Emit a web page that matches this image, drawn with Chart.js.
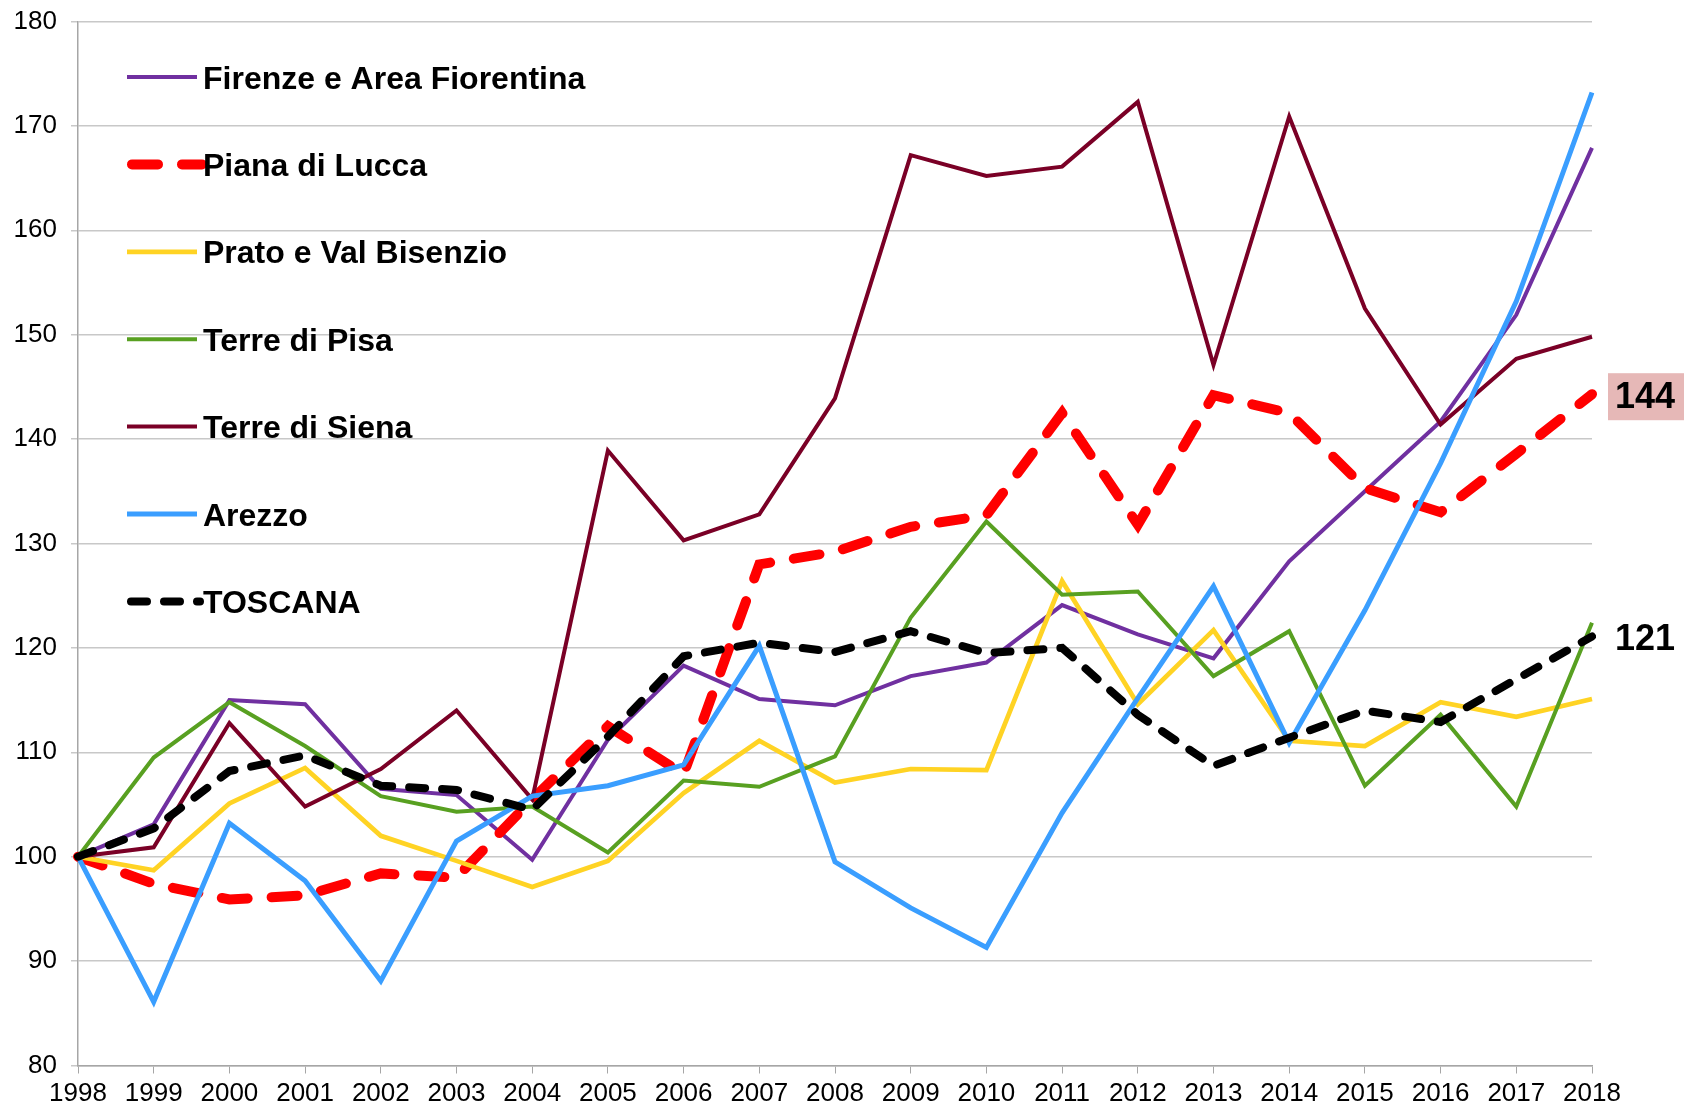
<!DOCTYPE html>
<html>
<head>
    <title>Indice 1998 = 100</title>
    <style>
        body { margin: 0; background: #fff; }
        #wrap { width: 1684px; height: 1112px; }
    </style>
    <script src="https://cdn.jsdelivr.net/npm/chart.js"></script>
</head>
<body>
    <div id="wrap">
        <canvas id="chart1" width="1684" height="1112"></canvas>
    </div>

    <script>
        var years = ['1998','1999','2000','2001','2002','2003','2004','2005','2006','2007','2008',
                     '2009','2010','2011','2012','2013','2014','2015','2016','2017','2018'];

        var firenze = [100, 103.1, 115.0, 114.6, 106.5, 105.9, 99.7, 111.2, 118.3, 115.1, 114.5,
                       117.3, 118.6, 124.1, 121.3, 119.0, 128.3, 135.0, 141.7, 151.9, 167.9];
        var lucca   = [100, 97.4, 95.9, 96.3, 98.4, 98.0, 105.5, 112.5, 107.9, 128.0, 129.2,
                       131.6, 132.7, 142.5, 131.8, 144.2, 142.5, 135.3, 133.0, 138.6, 144.3];
        var prato   = [100, 98.7, 105.1, 108.5, 102.0, 99.6, 97.1, 99.6, 106.1, 111.1, 107.1,
                       108.4, 108.3, 126.4, 114.6, 121.7, 111.1, 110.6, 114.8, 113.4, 115.1];
        var pisa    = [100, 109.5, 114.8, 110.6, 105.8, 104.3, 104.8, 100.4, 107.3, 106.7, 109.6,
                       122.9, 132.1, 125.1, 125.4, 117.3, 121.6, 106.8, 113.6, 104.8, 122.4];
        var siena   = [100, 100.9, 112.8, 104.8, 108.4, 114.0, 105.5, 138.9, 130.3, 132.8, 143.9,
                       167.2, 165.2, 166.1, 172.3, 147.1, 170.9, 152.5, 141.4, 147.7, 149.8];
        var arezzo  = [100, 86.1, 103.2, 97.7, 88.1, 101.5, 105.8, 106.8, 108.8, 120.2, 99.5,
                       95.1, 91.3, 104.2, 115.2, 125.9, 110.9, 123.6, 137.7, 153.2, 173.2];
        var toscana = [100, 102.7, 108.2, 109.7, 106.8, 106.4, 104.5, 111.5, 119.2, 120.5, 119.6,
                       121.6, 119.5, 120.0, 113.6, 108.7, 111.4, 114.0, 112.9, 117.0, 121.1];

        var FONT = '"Liberation Sans", Arial, sans-serif';

        // legend drawn inside the plot, top left
        var legendInside = {
            id: 'legendInside',
            afterDatasetsDraw: function(chart) {
                var ctx = chart.ctx;
                var y0 = 77, step = 87.4;
                ctx.save();
                chart.data.datasets.forEach(function(ds, i) {
                    var y = y0 + i * step;
                    ctx.beginPath();
                    ctx.strokeStyle = ds.borderColor;
                    ctx.lineWidth = ds.borderWidth;
                    ctx.lineCap = ds.borderCapStyle || 'butt';
                    ctx.setLineDash(ds.borderDash || []);
                    var x1 = 127, x2 = 197;
                    if (ds.borderDash) {
                        x1 = 127 + ds.borderWidth / 2;
                        x2 = ds.legendEnd;
                    }
                    ctx.moveTo(x1, y);
                    ctx.lineTo(x2, y);
                    ctx.stroke();
                    ctx.setLineDash([]);
                    ctx.fillStyle = '#000';
                    ctx.font = 'bold 32px ' + FONT;
                    ctx.textAlign = 'left';
                    ctx.textBaseline = 'alphabetic';
                    ctx.fillText(ds.label, 203, y + 11.5);
                });
                ctx.restore();
            }
        };

        // value labels at the right of the last point
        var endLabels = {
            id: 'endLabels',
            afterDraw: function(chart) {
                var ctx = chart.ctx;
                ctx.save();
                chart.data.datasets.forEach(function(ds, i) {
                    if (!ds.endLabel) return;
                    var meta = chart.getDatasetMeta(i);
                    var pt = meta.data[meta.data.length - 1];
                    var txt = String(Math.round(ds.data[ds.data.length - 1]));
                    var x = pt.x + 16;
                    if (ds.endLabelBg) {
                        ctx.fillStyle = ds.endLabelBg;
                        ctx.fillRect(x, pt.y - 21, 80, 47);
                    }
                    ctx.fillStyle = '#000';
                    ctx.font = 'bold 36px ' + FONT;
                    ctx.textAlign = 'left';
                    ctx.textBaseline = 'middle';
                    ctx.fillText(txt, x + 7, pt.y + 4);
                });
                ctx.restore();
            }
        };

        var ctx1 = document.getElementById('chart1').getContext('2d');
        var chart1 = new Chart(ctx1, {
            type: 'line',
            data: {
                labels: years,
                datasets: [
                    { label: 'Firenze e Area Fiorentina', data: firenze, borderColor: '#7030A0', borderWidth: 4, order: 7 },
                    { label: 'Piana di Lucca', data: lucca, borderColor: '#FF0000', borderWidth: 10,
                      borderDash: [26, 24], borderCapStyle: 'round', order: 6, legendEnd: 202,
                      endLabel: true, endLabelBg: '#E6B8B7' },
                    { label: 'Prato e Val Bisenzio', data: prato, borderColor: '#FFD324', borderWidth: 4.7, order: 5 },
                    { label: 'Terre di Pisa', data: pisa, borderColor: '#58A021', borderWidth: 4, order: 4 },
                    { label: 'Terre di Siena', data: siena, borderColor: '#7A0026', borderWidth: 4, order: 3 },
                    { label: 'Arezzo', data: arezzo, borderColor: '#3A9EFF', borderWidth: 5, order: 2 },
                    { label: 'TOSCANA', data: toscana, borderColor: '#000000', borderWidth: 8,
                      borderDash: [16, 17], borderCapStyle: 'round', order: 1, legendEnd: 200, endLabel: true }
                ]
            },
            options: {
                responsive: false,
                animation: false,
                devicePixelRatio: 1,
                layout: { padding: { top: 21.5, right: 92, bottom: 0, left: 0 } },
                elements: {
                    point: { radius: 0, hoverRadius: 0 },
                    line: { tension: 0, fill: false, borderJoinStyle: 'miter' }
                },
                plugins: {
                    legend: { display: false },
                    tooltip: { enabled: false }
                },
                scales: {
                    x: {
                        offset: false,
                        grid: { display: true, drawOnChartArea: false, drawTicks: true, tickLength: 8, color: '#A6A6A6' },
                        border: { color: '#A6A6A6', width: 1.5 },
                        ticks: { autoSkip: false, maxRotation: 0, color: '#000', padding: 5,
                                 font: { family: FONT, size: 26 } },
                        afterFit: function(scale) { scale.height = 46.5; }
                    },
                    y: {
                        min: 80,
                        max: 180,
                        grid: { color: '#C8C8C8', lineWidth: 1.5, tickLength: 7, drawTicks: true },
                        border: { color: '#A6A6A6', width: 1.5 },
                        ticks: { stepSize: 10, color: '#000', padding: 14,
                                 font: { family: FONT, size: 26 } },
                        afterFit: function(scale) {
                            scale.width = 78;
                            scale.paddingTop = 0;
                            scale.paddingBottom = 0;
                        }
                    }
                }
            },
            plugins: [legendInside, endLabels]
        });
    </script>
</body>
</html>
